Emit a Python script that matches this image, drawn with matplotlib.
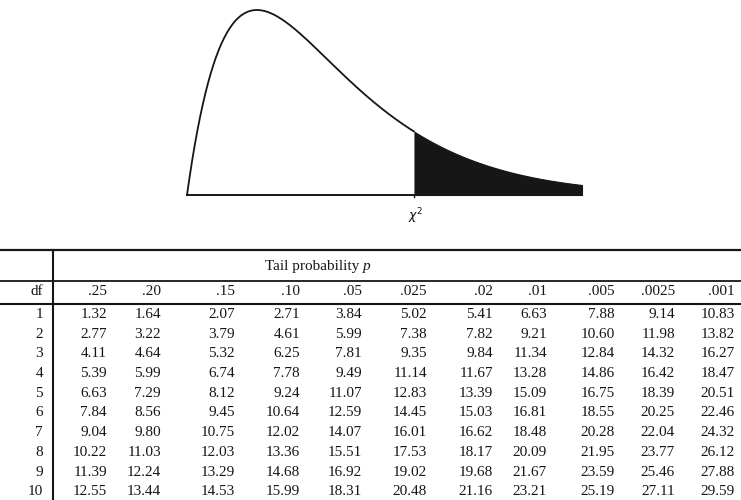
import math
import numpy as np
import matplotlib
matplotlib.use("Agg")
import matplotlib.pyplot as plt

# Upper-tail critical values of the chi-square distribution
df_values = [1, 2, 3, 4, 5, 6, 7, 8, 9, 10]
tail_labels = [".25", ".20", ".15", ".10", ".05", ".025", ".02", ".01", ".005", ".0025", ".001"]

p_25 = [1.32, 2.77, 4.11, 5.39, 6.63, 7.84, 9.04, 10.22, 11.39, 12.55]
p_20 = [1.64, 3.22, 4.64, 5.99, 7.29, 8.56, 9.80, 11.03, 12.24, 13.44]
p_15 = [2.07, 3.79, 5.32, 6.74, 8.12, 9.45, 10.75, 12.03, 13.29, 14.53]
p_10 = [2.71, 4.61, 6.25, 7.78, 9.24, 10.64, 12.02, 13.36, 14.68, 15.99]
p_05 = [3.84, 5.99, 7.81, 9.49, 11.07, 12.59, 14.07, 15.51, 16.92, 18.31]
p_025 = [5.02, 7.38, 9.35, 11.14, 12.83, 14.45, 16.01, 17.53, 19.02, 20.48]
p_02 = [5.41, 7.82, 9.84, 11.67, 13.39, 15.03, 16.62, 18.17, 19.68, 21.16]
p_01 = [6.63, 9.21, 11.34, 13.28, 15.09, 16.81, 18.48, 20.09, 21.67, 23.21]
p_005 = [7.88, 10.60, 12.84, 14.86, 16.75, 18.55, 20.28, 21.95, 23.59, 25.19]
p_0025 = [9.14, 11.98, 14.32, 16.42, 18.39, 20.25, 22.04, 23.77, 25.46, 27.11]
p_001 = [10.83, 13.82, 16.27, 18.47, 20.51, 22.46, 24.32, 26.12, 27.88, 29.59]

columns = [p_25, p_20, p_15, p_10, p_05, p_025, p_02, p_01, p_005, p_0025, p_001]

# sketch curve: chi-square density, shaded upper tail
CURVE_DF = 4
X_MAX = 11.3
X_CUT = 6.5

INK = "#161616"
FONT = "Liberation Serif"
FS = 11

W, H = 741, 500
fig = plt.figure(figsize=(W / 100, H / 100), dpi=100)

# --- density sketch ---
x = np.linspace(0, X_MAX, 600)
k = CURVE_DF / 2
dens = x ** (k - 1) * np.exp(-x / 2) / (2 ** k * math.gamma(k))
peak = dens.max()

ax_c = fig.add_axes([187 / W, 1 - 195 / H, 395 / W, 185 / H])
ax_c.set_xlim(0, X_MAX)
ax_c.set_ylim(0, peak)
ax_c.axis("off")
ax_c.plot(x[x <= X_CUT], dens[x <= X_CUT], color=INK, lw=1.3, clip_on=False)
ax_c.plot([0, X_CUT], [0, 0], color=INK, lw=1.4, clip_on=False)
tail = x >= X_CUT
ax_c.fill_between(x[tail], 0, dens[tail], color=INK, lw=0.8, edgecolor=INK, clip_on=False)
ax_c.plot([X_CUT, X_CUT], [0, -0.012 * peak], color=INK, lw=1.0, clip_on=False)

# --- table, drawn in pixel coordinates ---
ax = fig.add_axes([0, 0, 1, 1])
ax.set_xlim(0, W)
ax.set_ylim(H, 0)
ax.axis("off")

ax.plot([0, W], [250, 250], color=INK, lw=1.6)
ax.plot([0, W], [281, 281], color=INK, lw=1.3)
ax.plot([0, W], [304, 304], color=INK, lw=1.5)
ax.plot([53, 53], [250, H], color=INK, lw=1.5)

ax_c.text(X_CUT + 0.05, -0.06 * peak, r"$\chi^2$", ha="center", va="top",
          fontsize=9, color=INK, family=FONT)

ax.text(363, 270, "Tail probability ", ha="right", va="baseline",
        fontsize=FS, color=INK, family=FONT)
ax.text(363, 270, "p", ha="left", va="baseline", fontsize=FS,
        color=INK, family=FONT, style="italic")

right_edges = [107, 161, 235, 300, 362, 427, 493, 547, 615, 675, 735]
df_right = 43
header_base = 295
row0_base = 318
row_step = 19.7

ax.text(df_right, header_base, "df", ha="right", va="baseline",
        fontsize=FS, color=INK, family=FONT)
for xr, lab in zip(right_edges, tail_labels):
    ax.text(xr, header_base, lab, ha="right", va="baseline",
            fontsize=FS, color=INK, family=FONT)

for i, d in enumerate(df_values):
    yb = row0_base + i * row_step
    ax.text(df_right, yb, str(d), ha="right", va="baseline",
            fontsize=FS, color=INK, family=FONT)
    for xr, col in zip(right_edges, columns):
        ax.text(xr, yb, f"{col[i]:.2f}", ha="right", va="baseline",
                fontsize=FS, color=INK, family=FONT)

fig.savefig("out.png", dpi=100, facecolor="white")
